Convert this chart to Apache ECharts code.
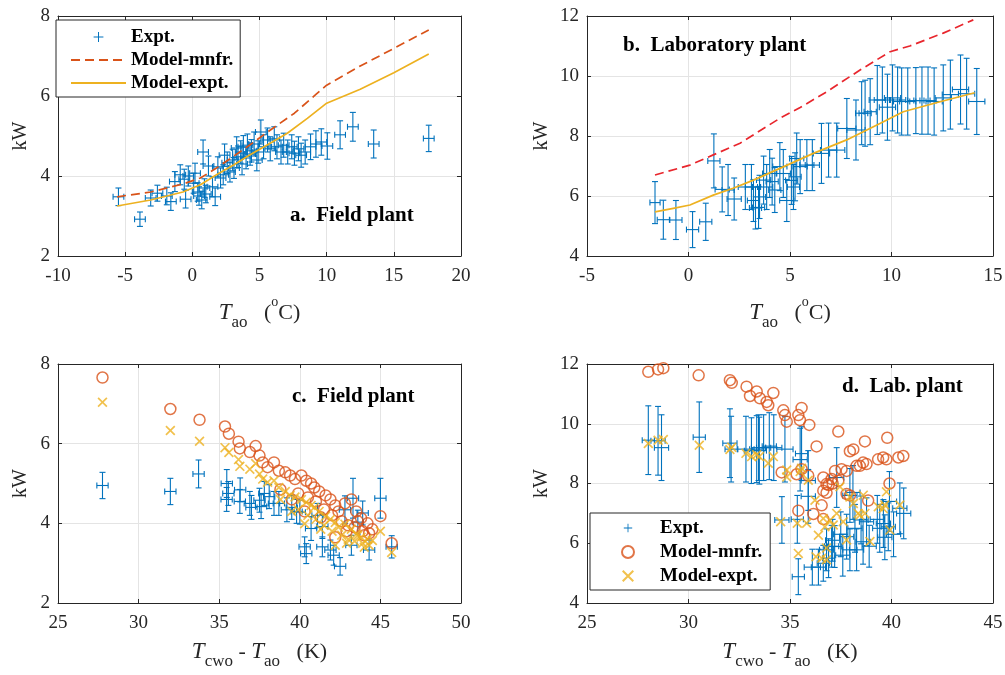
<!DOCTYPE html>
<html lang="en">
<head>
<meta charset="utf-8">
<title>Chiller power: field plant and laboratory plant</title>
<script src="https://cdn.jsdelivr.net/npm/echarts@6.0.0/dist/echarts.min.js"></script>
<style>
  html, body { margin: 0; padding: 0; background: #fff; }
  #chart { width: 1005px; height: 675px; }
</style>
</head>
<body>
<div id="chart"></div>
<script>
  var FONT = '"Liberation Serif", "Times New Roman", serif';
  var INK = '#262626';
  var BLUE = '#0072BD', ORANGE = '#D95319', YELLOW = '#EDB120', RED = '#E8262D';

  // panel a: field plant vs ambient temperature  [T, kW, xerr, yerr]
  var aExpt = [
    [-5.5, 3.48, 0.4, 0.22], [-3.9, 2.92, 0.4, 0.18], [-3.1, 3.45, 0.4, 0.2], [-2.6, 3.57, 0.4, 0.2],
    [-1.9, 3.5, 0.4, 0.22], [-1.6, 3.36, 0.4, 0.22], [-1.3, 3.86, 0.4, 0.25], [-0.9, 4.03, 0.4, 0.25],
    [-0.6, 3.92, 0.4, 0.25], [-0.5, 3.42, 0.4, 0.22], [-0.3, 4.0, 0.4, 0.25], [0.1, 3.82, 0.4, 0.25],
    [0.2, 4.07, 0.4, 0.25], [0.4, 3.6, 0.4, 0.23], [0.5, 3.5, 0.4, 0.23], [0.7, 3.4, 0.4, 0.22],
    [0.8, 4.6, 0.4, 0.3], [0.9, 3.7, 0.4, 0.23], [1.0, 3.55, 0.4, 0.22], [1.2, 4.25, 0.4, 0.25],
    [1.5, 3.73, 0.4, 0.25], [1.7, 3.48, 0.4, 0.22], [1.9, 4.23, 0.4, 0.25], [2.1, 3.95, 0.4, 0.25],
    [2.3, 4.03, 0.4, 0.25], [2.4, 4.52, 0.4, 0.28], [2.6, 4.33, 0.4, 0.27], [2.8, 4.1, 0.4, 0.25],
    [3.0, 4.4, 0.4, 0.27], [3.1, 4.2, 0.4, 0.26], [3.3, 4.7, 0.4, 0.28], [3.4, 4.48, 0.4, 0.27],
    [3.6, 4.6, 0.4, 0.28], [3.7, 4.3, 0.4, 0.27], [3.8, 4.73, 0.4, 0.28], [4.0, 4.45, 0.4, 0.27],
    [4.1, 4.77, 0.4, 0.28], [4.3, 4.55, 0.4, 0.28], [4.4, 4.63, 0.4, 0.28], [4.6, 4.8, 0.4, 0.3],
    [4.8, 4.4, 0.4, 0.27], [4.9, 4.6, 0.4, 0.28], [5.1, 5.1, 0.4, 0.3], [5.3, 4.73, 0.4, 0.3],
    [5.6, 4.9, 0.4, 0.3], [5.8, 4.68, 0.4, 0.3], [6.1, 4.93, 0.4, 0.3], [6.3, 4.73, 0.4, 0.3],
    [6.6, 4.6, 0.4, 0.3], [6.8, 4.77, 0.4, 0.3], [7.1, 4.6, 0.4, 0.3], [7.4, 4.73, 0.4, 0.3],
    [7.6, 4.57, 0.4, 0.3], [7.9, 4.68, 0.4, 0.3], [8.1, 4.52, 0.4, 0.3], [8.4, 4.6, 0.4, 0.3],
    [8.8, 4.73, 0.4, 0.32], [9.2, 4.8, 0.4, 0.33], [9.6, 4.85, 0.4, 0.33], [10.05, 4.75, 0.4, 0.33],
    [11.0, 5.03, 0.4, 0.35], [11.95, 5.23, 0.4, 0.36], [13.5, 4.8, 0.4, 0.35], [17.6, 4.94, 0.4, 0.33]
  ];
  var aMnfr = [
    [-5.6, 3.48], [-3.1, 3.6], [-0.7, 3.8], [0.6, 3.95], [1.8, 4.2], [3.1, 4.5], [4.3, 4.78],
    [5.6, 5.1], [7.6, 5.57], [9.2, 6.04], [10.0, 6.27], [12.5, 6.75], [15.0, 7.19], [17.6, 7.65]
  ];
  var aFit = [
    [-5.6, 3.25], [-3.1, 3.4], [-0.7, 3.6], [0.6, 3.78], [1.8, 4.03], [3.1, 4.28], [4.3, 4.53],
    [5.6, 4.78], [7.07, 5.07], [8.56, 5.44], [10.0, 5.82], [12.5, 6.17], [15.0, 6.58], [17.6, 7.05]
  ];

  // panel b: laboratory plant vs ambient temperature
  var bExpt = [
    [-1.65, 5.78, 0.25, 0.7], [-1.24, 5.21, 0.3, 0.65], [-0.62, 5.2, 0.3, 0.65], [0.2, 4.88, 0.3, 0.6],
    [0.85, 5.14, 0.3, 0.62], [1.25, 7.17, 0.3, 0.9], [1.66, 6.22, 0.35, 0.75], [1.95, 6.2, 0.3, 0.85],
    [2.25, 5.9, 0.35, 0.7], [2.8, 6.3, 0.35, 0.75], [3.1, 6.3, 0.3, 0.75], [3.2, 5.85, 0.3, 0.7],
    [3.3, 5.6, 0.3, 0.7], [3.45, 5.62, 0.3, 0.7], [3.5, 5.97, 0.3, 0.72], [3.7, 6.53, 0.35, 0.8],
    [3.85, 6.3, 0.3, 0.75], [4.0, 6.75, 0.35, 0.8], [4.12, 6.48, 0.3, 0.78], [4.25, 6.2, 0.3, 0.75],
    [4.5, 6.98, 0.35, 0.8], [4.67, 6.75, 0.35, 0.8], [4.84, 5.85, 0.35, 0.7], [5.08, 6.52, 0.3, 0.8],
    [5.17, 6.3, 0.3, 0.75], [5.25, 6.64, 0.3, 0.8], [5.33, 7.25, 0.35, 0.85], [5.5, 6.98, 0.35, 0.9],
    [5.83, 7.03, 0.35, 0.85], [6.1, 7.03, 0.35, 0.85], [6.55, 7.42, 0.4, 1.0], [6.9, 7.53, 0.4, 0.9],
    [7.3, 7.53, 0.4, 0.9], [7.8, 8.25, 0.45, 1.0], [8.25, 8.2, 0.45, 1.0], [8.53, 8.76, 0.3, 1.05],
    [8.7, 8.76, 0.3, 1.1], [8.95, 8.81, 0.3, 1.1], [9.3, 9.2, 0.4, 1.15], [9.55, 9.2, 0.4, 1.1],
    [9.8, 8.96, 0.4, 1.1], [10.05, 9.27, 0.4, 1.1], [10.3, 9.2, 0.4, 1.1], [10.5, 9.15, 0.4, 1.12],
    [10.8, 9.15, 0.4, 1.12], [11.2, 9.18, 0.4, 1.1], [11.5, 9.18, 0.4, 1.12], [11.8, 9.18, 0.4, 1.12],
    [12.1, 9.15, 0.4, 1.12], [12.55, 9.27, 0.4, 1.1], [12.9, 9.38, 0.4, 1.15], [13.4, 9.55, 0.4, 1.15],
    [13.7, 9.41, 0.4, 1.18], [14.2, 9.15, 0.4, 1.1]
  ];
  var bMnfr = [
    [-1.65, 6.7], [0.07, 7.03], [1.22, 7.37], [2.54, 7.76], [4.5, 8.59], [5.5, 8.95],
    [6.8, 9.47], [8.45, 10.2], [9.93, 10.81], [10.9, 11.0], [12.55, 11.43], [14.03, 11.87]
  ];
  var bFit = [
    [-1.65, 5.47], [-0.75, 5.59], [0.07, 5.7], [1.22, 6.03], [2.2, 6.26], [3.2, 6.53], [4.5, 6.92],
    [6.15, 7.42], [7.79, 7.87], [9.43, 8.42], [10.58, 8.81], [12.39, 9.14], [14.1, 9.44]
  ];

  // panel c: field plant vs temperature lift
  var cExpt = [
    [27.76, 4.95, 0.35, 0.33], [31.97, 4.8, 0.35, 0.33], [33.72, 5.24, 0.35, 0.35], [35.47, 5.0, 0.35, 0.35],
    [35.57, 4.75, 0.35, 0.3], [35.46, 4.6, 0.35, 0.3], [36.3, 4.84, 0.35, 0.3], [36.28, 4.55, 0.35, 0.3],
    [36.9, 4.5, 0.35, 0.3], [37.0, 4.4, 0.35, 0.3], [37.5, 4.58, 0.35, 0.3], [37.8, 4.75, 0.35, 0.3],
    [37.6, 4.42, 0.35, 0.3], [38.1, 4.67, 0.35, 0.3], [38.4, 4.5, 0.35, 0.3], [38.7, 4.5, 0.35, 0.3],
    [39.2, 4.34, 0.35, 0.3], [39.5, 4.4, 0.35, 0.3], [39.8, 4.3, 0.35, 0.3], [40.0, 4.28, 0.35, 0.3],
    [40.3, 3.41, 0.35, 0.25], [40.4, 3.24, 0.35, 0.25], [40.7, 3.87, 0.35, 0.3], [41.1, 4.2, 0.35, 0.3],
    [41.4, 3.92, 0.35, 0.3], [41.4, 3.41, 0.35, 0.25], [41.9, 3.33, 0.35, 0.25], [42.1, 3.2, 0.35, 0.25],
    [42.5, 2.92, 0.35, 0.22], [42.8, 4.34, 0.35, 0.35], [43.3, 4.63, 0.35, 0.5], [43.2, 3.45, 0.35, 0.25],
    [43.6, 4.03, 0.35, 0.3], [43.9, 4.26, 0.35, 0.3], [44.3, 3.33, 0.35, 0.25], [45.0, 4.63, 0.35, 0.5],
    [45.7, 3.41, 0.35, 0.28]
  ];
  var cMnfr = [
    [27.76, 7.66], [31.97, 6.87], [33.78, 6.6], [35.36, 6.43], [35.6, 6.25], [36.2, 6.05], [36.28, 5.88],
    [36.9, 5.79], [37.26, 5.94], [37.5, 5.7], [37.7, 5.53], [38.0, 5.41], [38.4, 5.53], [38.7, 5.32],
    [39.1, 5.28], [39.4, 5.2], [39.7, 5.11], [40.1, 5.2], [40.4, 5.07], [40.7, 5.0], [40.9, 4.9],
    [41.2, 4.8], [41.6, 4.7], [41.9, 4.6], [42.2, 4.45], [42.4, 4.3], [42.8, 4.5], [43.2, 4.6],
    [43.5, 4.3], [43.8, 4.13], [44.2, 4.0], [44.5, 3.85], [45.0, 4.18], [45.7, 3.5], [40.3, 4.3],
    [42.2, 3.65], [41.0, 4.55], [41.5, 4.35], [42.0, 4.2], [42.6, 4.05], [43.0, 3.95], [43.4, 3.9],
    [43.9, 3.8], [44.3, 3.75], [39.9, 4.75], [40.5, 4.65], [41.3, 4.15], [42.9, 3.8], [43.6, 4.05],
    [44.0, 3.7], [38.8, 4.85], [39.5, 4.6]
  ];
  var cFit = [
    [27.76, 7.04], [31.97, 6.33], [33.78, 6.06], [35.36, 5.9], [35.6, 5.78], [36.2, 5.6], [36.28, 5.43],
    [36.9, 5.36], [37.26, 5.5], [37.5, 5.24], [37.7, 5.11], [38.0, 5.03], [38.4, 5.07], [38.7, 4.9],
    [39.1, 4.8], [39.4, 4.7], [39.7, 4.66], [40.1, 4.6], [40.4, 4.53], [40.7, 4.45], [40.9, 4.4],
    [41.2, 4.3], [41.6, 4.18], [41.9, 4.1], [42.2, 4.02], [42.4, 3.9], [42.8, 3.98], [43.2, 3.85],
    [43.5, 3.73], [43.8, 3.65], [44.2, 3.6], [44.5, 3.57], [45.0, 3.8], [45.7, 3.27], [40.3, 3.99],
    [42.2, 3.45], [41.0, 4.1], [41.5, 3.95], [42.0, 3.8], [42.6, 3.7], [43.0, 3.6], [43.4, 3.55],
    [43.9, 3.5], [44.3, 3.45], [39.9, 4.35], [40.5, 4.2], [41.3, 3.85], [42.9, 3.5], [43.6, 3.7],
    [44.0, 3.4], [38.8, 4.6], [39.5, 4.3]
  ];

  // panel d: laboratory plant vs temperature lift
  var dExpt = [
    [28.02, 9.45, 0.3, 1.15], [28.5, 9.43, 0.35, 1.15], [28.67, 9.2, 0.35, 1.1], [30.53, 9.55, 0.3, 1.18],
    [32.04, 9.35, 0.35, 1.15], [32.1, 9.15, 0.3, 1.1], [32.83, 9.15, 0.4, 1.1], [33.1, 9.1, 0.35, 1.1],
    [33.36, 9.15, 0.35, 1.12], [33.45, 9.2, 0.35, 1.1], [33.49, 9.1, 0.35, 1.12], [33.7, 9.2, 0.35, 1.1],
    [33.98, 9.25, 0.35, 1.12], [34.2, 9.2, 0.4, 1.1], [34.75, 9.15, 0.4, 1.1], [34.6, 6.78, 0.35, 0.78],
    [35.36, 6.8, 0.3, 0.8], [35.41, 4.88, 0.3, 0.6], [35.5, 8.8, 0.35, 1.05], [35.57, 9.0, 0.3, 0.9],
    [35.9, 8.1, 0.35, 1.0], [35.9, 7.57, 0.35, 0.9], [36.1, 5.2, 0.4, 0.6], [36.4, 5.2, 0.35, 0.6],
    [36.64, 5.33, 0.3, 0.6], [36.8, 5.78, 0.35, 0.7], [36.9, 5.5, 0.3, 0.65], [37.05, 5.9, 0.35, 0.7],
    [37.1, 6.1, 0.35, 0.7], [37.2, 5.89, 0.35, 0.7], [37.3, 8.2, 0.35, 1.0], [37.5, 6.3, 0.35, 0.75],
    [37.6, 5.6, 0.35, 0.7], [37.79, 6.22, 0.35, 0.75], [37.95, 5.78, 0.35, 0.7], [37.95, 7.6, 0.35, 0.9],
    [38.1, 7.7, 0.35, 0.9], [38.2, 6.5, 0.35, 0.8], [38.28, 5.78, 0.35, 0.7], [38.5, 6.78, 0.35, 0.8],
    [38.6, 6.05, 0.35, 0.75], [38.77, 6.72, 0.35, 0.8], [38.9, 5.9, 0.35, 0.7], [39.3, 6.8, 0.35, 0.8],
    [39.42, 6.5, 0.35, 0.8], [39.6, 6.66, 0.35, 0.8], [39.67, 6.2, 0.35, 0.75], [39.84, 6.55, 0.35, 0.8],
    [39.9, 7.4, 0.35, 1.0], [40.1, 6.3, 0.35, 0.75], [40.41, 7.17, 0.35, 0.85], [40.6, 7.0, 0.35, 0.85]
  ];
  var dMnfr = [
    [28.02, 11.74], [28.5, 11.82], [28.76, 11.86], [30.5, 11.62], [32.04, 11.46], [32.13, 11.37],
    [32.86, 11.24], [33.03, 10.93], [33.36, 11.08], [33.52, 10.85], [33.85, 10.73], [33.93, 10.62],
    [34.18, 11.03], [34.67, 10.45], [34.75, 10.29], [34.84, 10.07], [35.41, 10.29], [35.57, 10.53],
    [35.49, 10.12], [35.95, 9.96], [36.31, 9.24], [37.38, 9.74], [37.95, 9.08], [38.12, 9.14],
    [38.28, 8.59], [38.44, 8.59], [38.69, 9.41], [38.6, 8.7], [38.77, 8.65], [39.34, 8.81],
    [39.59, 8.87], [39.75, 8.81], [39.79, 9.53], [40.34, 8.87], [40.58, 8.92], [39.9, 8.0],
    [34.59, 8.37], [35.33, 8.31], [35.57, 8.48], [35.9, 8.26], [36.64, 8.2], [36.8, 7.98],
    [37.05, 8.15], [37.22, 8.42], [37.38, 8.09], [37.54, 8.48], [37.79, 8.42], [36.64, 7.76],
    [36.56, 7.27], [36.8, 7.69], [35.41, 7.09], [36.15, 6.98], [36.64, 6.81], [37.79, 7.65],
    [37.95, 7.6], [38.85, 7.43], [36.9, 7.95], [37.1, 8.0]
  ];
  var dFit = [
    [28.02, 9.34], [28.5, 9.45], [28.76, 9.47], [30.53, 9.28], [32.04, 9.14], [32.13, 9.21],
    [32.83, 9.01], [33.11, 8.9], [33.36, 8.96], [33.49, 8.9], [33.93, 8.68], [34.18, 8.9],
    [34.54, 6.72], [34.84, 8.45], [34.84, 8.22], [35.36, 6.67], [35.41, 5.66], [35.5, 8.4],
    [35.57, 8.51], [35.82, 6.67], [35.9, 8.11], [36.23, 7.44], [36.28, 5.55], [36.4, 6.27],
    [36.56, 5.5], [36.64, 6.83], [36.72, 6.55], [36.8, 5.84], [36.8, 5.45], [36.97, 6.77],
    [37.13, 6.61], [37.3, 7.0], [37.46, 7.89], [37.62, 6.72], [37.79, 6.11], [37.95, 7.55],
    [38.12, 7.33], [38.36, 7.0], [38.44, 6.94], [38.61, 7.61], [38.69, 7.0], [38.94, 6.06],
    [39.35, 7.22], [39.59, 7.16], [39.67, 7.28], [39.75, 7.72], [39.92, 6.44], [40.41, 7.28]
  ];

  // axis ranges per panel: [xmin, xmax, ymin, ymax]
  var ranges = [[-10, 20, 2, 8], [-5, 15, 4, 12], [25, 50, 2, 8], [25, 45, 4, 12]];
  var grids = [
    { left: 58, top: 16, width: 403, height: 240 },
    { left: 587, top: 16, width: 406, height: 240 },
    { left: 58, top: 364, width: 403, height: 239 },
    { left: 587, top: 364, width: 406, height: 239 }
  ];
  var xNames = [
    '{it|T}{sub|ao}{n|   (}{sup|o}{n|C)}',
    '{it|T}{sub|ao}{n|   (}{sup|o}{n|C)}',
    '{it|T}{sub|cwo}{n| - }{it|T}{sub|ao}{n|   (K)}',
    '{it|T}{sub|cwo}{n| - }{it|T}{sub|ao}{n|   (K)}'
  ];
  var xNameGaps = [39, 39, 31, 31];
  var yNameGaps = [27, 35, 27, 35];

  var nameStyle = {
    color: INK, fontFamily: FONT, fontSize: 22,
    rich: {
      it: { fontFamily: FONT, fontStyle: 'italic', fontSize: 23, color: INK, lineHeight: 36, verticalAlign: 'middle' },
      n: { fontFamily: FONT, fontSize: 22, color: INK, lineHeight: 36, verticalAlign: 'middle' },
      sub: { fontFamily: FONT, fontSize: 17, color: INK, lineHeight: 18, verticalAlign: 'bottom' },
      sup: { fontFamily: FONT, fontSize: 14, color: INK, lineHeight: 20, verticalAlign: 'top' }
    }
  };

  var PLUS = 'path://M0,0M20,20M9.3,3h1.4v14h-1.4z M3,9.3h14v1.4h-14z';
  var CROSS = 'path://M0,1.2L1.2,0L10,8.8L8.8,10z M8.8,0L10,1.2L1.2,10L0,8.8z';
  var NO_SYMBOL = { color: 'rgba(0,0,0,0)', borderColor: 'rgba(0,0,0,0)', borderWidth: 0, opacity: 0 };

  function mainAxis(dim, i) {
    var r = ranges[i];
    var isX = dim === 'x';
    return {
      type: 'value', gridIndex: i,
      min: isX ? r[0] : r[2], max: isX ? r[1] : r[3], interval: isX ? 5 : 2,
      position: isX ? 'bottom' : 'left',
      axisLine: { show: true, onZero: false, lineStyle: { color: INK, width: 1 } },
      axisTick: { show: true, inside: true, length: 4, lineStyle: { color: INK } },
      axisLabel: { color: INK, fontFamily: FONT, fontSize: 19, margin: isX ? 11 : 8 },
      splitLine: { show: true, lineStyle: { color: '#e4e4e4', width: 1 } },
      name: isX ? xNames[i] : 'kW',
      nameLocation: 'middle',
      nameGap: isX ? xNameGaps[i] : yNameGaps[i],
      nameRotate: isX ? 0 : 90,
      nameMoveOverlap: false,
      nameTextStyle: isX ? nameStyle : { color: INK, fontFamily: FONT, fontSize: 20 }
    };
  }
  function boxAxis(dim, i) {
    var r = ranges[i];
    var isX = dim === 'x';
    return {
      type: 'value', gridIndex: i,
      min: isX ? r[0] : r[2], max: isX ? r[1] : r[3], interval: isX ? 5 : 2,
      position: isX ? 'top' : 'right',
      axisLine: { show: true, onZero: false, lineStyle: { color: INK, width: 1 } },
      axisTick: { show: true, inside: true, length: 4, lineStyle: { color: INK } },
      axisLabel: { show: false },
      splitLine: { show: false }
    };
  }

  function errorBars(params, api) {
    var x = api.value(0), y = api.value(1), ex = api.value(2), ey = api.value(3);
    var p = api.coord([x, y]);
    var l = api.coord([x - ex, y])[0], r = api.coord([x + ex, y])[0];
    var t = api.coord([x, y + ey])[1], b = api.coord([x, y - ey])[1];
    var c = 3;
    function seg(x1, y1, x2, y2) {
      return { type: 'line', shape: { x1: x1, y1: y1, x2: x2, y2: y2 }, style: { stroke: BLUE, lineWidth: 1.1 } };
    }
    return {
      type: 'group',
      children: [
        seg(l, p[1], r, p[1]), seg(l, p[1] - c, l, p[1] + c), seg(r, p[1] - c, r, p[1] + c),
        seg(p[0], t, p[0], b), seg(p[0] - c, t, p[0] + c, t), seg(p[0] - c, b, p[0] + c, b)
      ]
    };
  }

  function exptSeries(name, i, data) {
    return {
      name: name, type: 'custom', xAxisIndex: i, yAxisIndex: i,
      renderItem: errorBars, encode: { x: 0, y: 1 },
      itemStyle: { color: BLUE }, data: data, z: 2
    };
  }
  function lineSeries(name, i, data, color, dashed) {
    return {
      name: name, type: 'line', xAxisIndex: i, yAxisIndex: i, data: data,
      symbol: 'none', color: color,
      lineStyle: { color: color, width: 1.7, type: dashed ? [9, 5] : 'solid' }, z: 3
    };
  }
  function circleSeries(name, i, data) {
    return {
      name: name, type: 'scatter', xAxisIndex: i, yAxisIndex: i, data: data,
      symbol: 'circle', symbolSize: 11,
      itemStyle: { color: 'rgba(0,0,0,0)', borderColor: ORANGE, borderWidth: 1.5 }, z: 3
    };
  }
  function crossSeries(name, i, data) {
    return {
      name: name, type: 'scatter', xAxisIndex: i, yAxisIndex: i, data: data,
      symbol: CROSS, symbolSize: 10,
      itemStyle: { color: YELLOW }, z: 4
    };
  }

  var xAxes = [], yAxes = [];
  [0, 1, 2, 3].forEach(function (i) { xAxes.push(mainAxis('x', i)); yAxes.push(mainAxis('y', i)); });
  [0, 1, 2, 3].forEach(function (i) { xAxes.push(boxAxis('x', i)); yAxes.push(boxAxis('y', i)); });

  var legendText = { fontFamily: FONT, fontSize: 19, fontWeight: 'bold', color: '#000', lineHeight: 22 };
  var panelLabel = { fontFamily: FONT, fontSize: 21, fontWeight: 'bold', color: '#000' };

  var option = {
    backgroundColor: '#fff',
    animation: false,
    grid: grids.map(function (g) {
      return { left: g.left, top: g.top, width: g.width, height: g.height, containLabel: false, outerBoundsMode: 'none' };
    }),
    xAxis: xAxes,
    yAxis: yAxes,
    title: [
      { text: 'a.  Field plant', left: 285, top: 200, textStyle: panelLabel },
      { text: 'b.  Laboratory plant', left: 618, top: 30, textStyle: panelLabel },
      { text: 'c.  Field plant', left: 287, top: 381, textStyle: panelLabel },
      { text: 'd.  Lab. plant', left: 837, top: 371, textStyle: panelLabel }
    ],
    legend: [
      {
        left: 56, top: 20, orient: 'vertical', selectedMode: false,
        data: [
          { name: 'Expt.', icon: PLUS },
          { name: 'Model-mnfr.', itemStyle: NO_SYMBOL },
          { name: 'Model-expt.', itemStyle: NO_SYMBOL }
        ],
        itemWidth: 55, itemHeight: 14, itemGap: 1,
        padding: [6, 7, 3, 14], borderColor: INK, borderWidth: 1, borderRadius: 0,
        backgroundColor: '#fff', textStyle: legendText
      },
      {
        left: 590, top: 513, orient: 'vertical', selectedMode: false,
        data: [{ name: 'Expt. ', icon: PLUS }, 'Model-mnfr. ', 'Model-expt. '],
        formatter: function (n) { return n.trim(); },
        itemWidth: 54, itemHeight: 12, itemGap: 2,
        padding: [4, 8, 3, 31], borderColor: INK, borderWidth: 1, borderRadius: 0,
        backgroundColor: '#fff', textStyle: legendText
      }
    ],
    series: [
      exptSeries('Expt.', 0, aExpt),
      lineSeries('Model-mnfr.', 0, aMnfr, ORANGE, true),
      lineSeries('Model-expt.', 0, aFit, YELLOW, false),
      exptSeries('Expt.', 1, bExpt),
      lineSeries('Model-mnfr.', 1, bMnfr, RED, true),
      lineSeries('Model-expt.', 1, bFit, YELLOW, false),
      exptSeries('Expt. ', 2, cExpt),
      circleSeries('Model-mnfr. ', 2, cMnfr),
      crossSeries('Model-expt. ', 2, cFit),
      exptSeries('Expt. ', 3, dExpt),
      circleSeries('Model-mnfr. ', 3, dMnfr),
      crossSeries('Model-expt. ', 3, dFit)
    ]
  };

  var chart = echarts.init(document.getElementById('chart'));
  chart.setOption(option);
</script>
</body>
</html>
